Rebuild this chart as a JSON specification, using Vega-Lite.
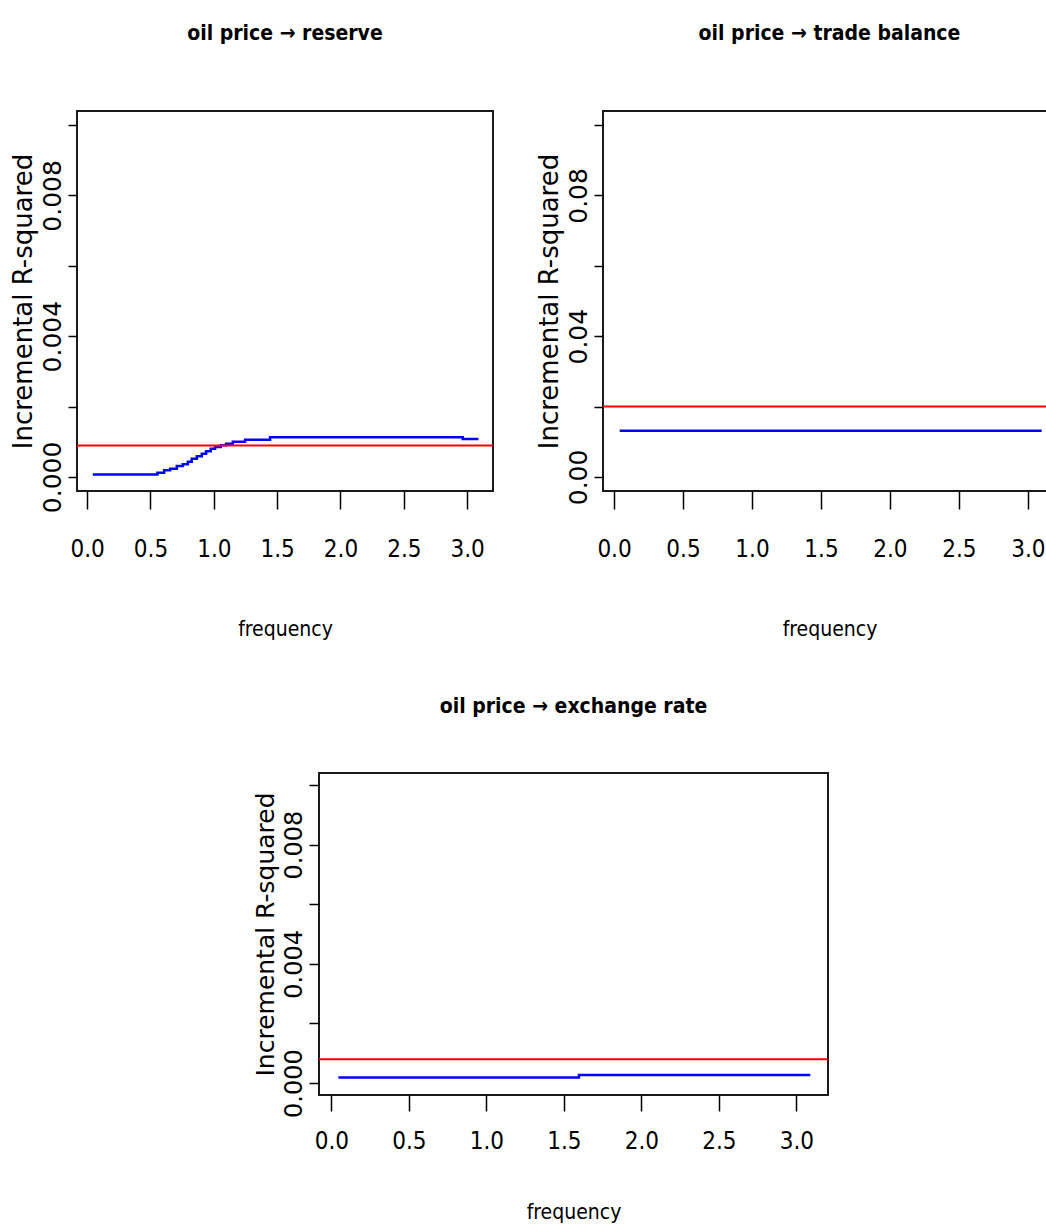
{
  "$schema": "https://vega.github.io/schema/vega-lite/v6.json",
  "usermeta": {"embedOptions": {"actions": false}},
  "background": "white",
  "padding": {"left": 9, "top": 22, "right": 0, "bottom": 0},
  "datasets": {
    "curves": [
      {"panel": "reserve", "freq": 0.045, "r2": 0.00007},
      {"panel": "reserve", "freq": 0.555, "r2": 0.00012},
      {"panel": "reserve", "freq": 0.608, "r2": 0.00019},
      {"panel": "reserve", "freq": 0.655, "r2": 0.00023},
      {"panel": "reserve", "freq": 0.708, "r2": 0.00031},
      {"panel": "reserve", "freq": 0.755, "r2": 0.00036},
      {"panel": "reserve", "freq": 0.795, "r2": 0.00043},
      {"panel": "reserve", "freq": 0.826, "r2": 0.00052},
      {"panel": "reserve", "freq": 0.866, "r2": 0.00059},
      {"panel": "reserve", "freq": 0.905, "r2": 0.00066},
      {"panel": "reserve", "freq": 0.939, "r2": 0.00073},
      {"panel": "reserve", "freq": 0.976, "r2": 0.0008},
      {"panel": "reserve", "freq": 1.01, "r2": 0.00085},
      {"panel": "reserve", "freq": 1.055, "r2": 0.0009},
      {"panel": "reserve", "freq": 1.097, "r2": 0.00094},
      {"panel": "reserve", "freq": 1.15, "r2": 0.001},
      {"panel": "reserve", "freq": 1.247, "r2": 0.00106},
      {"panel": "reserve", "freq": 1.444, "r2": 0.00113},
      {"panel": "reserve", "freq": 2.965, "r2": 0.00108},
      {"panel": "reserve", "freq": 3.089, "r2": 0.00108},
      {"panel": "trade", "freq": 0.041, "r2": 0.0131},
      {"panel": "trade", "freq": 3.1, "r2": 0.0131},
      {"panel": "exchange", "freq": 0.045, "r2": 0.00019},
      {"panel": "exchange", "freq": 1.597, "r2": 0.00027},
      {"panel": "exchange", "freq": 3.09, "r2": 0.00027}
    ],
    "thresholds": [
      {"panel": "reserve", "r2": 0.00089},
      {"panel": "trade", "r2": 0.02},
      {"panel": "exchange", "r2": 0.0008}
    ]
  },
  "config": {
    "view": {"stroke": "#1a1a1a", "strokeWidth": 2},
    "axis": {
      "domain": false,
      "grid": false,
      "tickColor": "black",
      "tickWidth": 1.5,
      "labelColor": "black",
      "titleColor": "black",
      "titleFontWeight": "normal",
      "labelOverlap": false,
      "labelFlush": false
    },
    "axisX": {
      "labelFont": "DejaVu Sans Condensed",
      "labelFontSize": 24,
      "titleFont": "DejaVu Sans Condensed",
      "titleFontSize": 21
    },
    "axisY": {
      "labelFont": "DejaVu Sans",
      "titleFont": "DejaVu Sans"
    },
    "title": {
      "font": "DejaVu Sans Condensed",
      "fontSize": 21,
      "fontWeight": "bold",
      "color": "black",
      "anchor": "middle",
      "frame": "group",
      "baseline": "alphabetic"
    }
  },
  "spacing": 55,
  "vconcat": [
    {
      "spacing": 40,
      "hconcat": [
        {
          "width": 416,
          "height": 380,
          "title": {"text": "oil price → reserve", "offset": 67},
          "layer": [
            {
              "data": {"name": "curves"},
              "transform": [{"filter": "datum.panel === 'reserve'"}],
              "mark": {"type": "line", "interpolate": "step-after", "color": "#0000ff", "strokeWidth": 2.5},
              "encoding": {
                "x": {"field": "freq", "type": "quantitative", "scale": {"domain": [-0.08, 3.204], "nice": false, "zero": false},
                  "axis": {"title": "frequency", "values": [0, 0.5, 1, 1.5, 2, 2.5, 3], "format": ".1f", "tickSize": 18, "labelPadding": 28, "titlePadding": 57}},
                "y": {"field": "r2", "type": "quantitative", "scale": {"domain": [-0.0004, 0.0104], "nice": false, "zero": false},
                  "axis": {"title": "Incremental R-squared", "values": [0, 0.002, 0.004, 0.006, 0.008, 0.01], "format": ".3f",
                    "labelExpr": "(datum.label == '0.000' || datum.label == '0.004' || datum.label == '0.008') ? datum.label : ''",
                    "labelAngle": 270, "labelAlign": "center", "labelBaseline": "alphabetic", "labelPadding": 8, "tickSize": 9,
                    "labelFontSize": 25, "titleFontSize": 26, "titlePadding": 4}}
              }
            },
            {
              "data": {"name": "thresholds"},
              "transform": [{"filter": "datum.panel === 'reserve'"}],
              "mark": {"type": "rule", "color": "#ff0000", "strokeWidth": 2},
              "encoding": {"y": {"field": "r2", "type": "quantitative", "title": "Incremental R-squared"}}
            }
          ]
        },
        {
          "width": 453,
          "height": 380,
          "title": {"text": "oil price → trade balance", "offset": 67},
          "layer": [
            {
              "data": {"name": "curves"},
              "transform": [{"filter": "datum.panel === 'trade'"}],
              "mark": {"type": "line", "interpolate": "step-after", "color": "#0000ff", "strokeWidth": 2.5},
              "encoding": {
                "x": {"field": "freq", "type": "quantitative", "scale": {"domain": [-0.08, 3.204], "nice": false, "zero": false},
                  "axis": {"title": "frequency", "values": [0, 0.5, 1, 1.5, 2, 2.5, 3], "format": ".1f", "tickSize": 18, "labelPadding": 28, "titlePadding": 57}},
                "y": {"field": "r2", "type": "quantitative", "scale": {"domain": [-0.004, 0.104], "nice": false, "zero": false},
                  "axis": {"title": "Incremental R-squared", "values": [0, 0.02, 0.04, 0.06, 0.08, 0.1], "format": ".2f",
                    "labelExpr": "(datum.label == '0.00' || datum.label == '0.04' || datum.label == '0.08') ? datum.label : ''",
                    "labelAngle": 270, "labelAlign": "center", "labelBaseline": "alphabetic", "labelPadding": 8, "tickSize": 9,
                    "labelFontSize": 25, "titleFontSize": 26, "titlePadding": 4}}
              }
            },
            {
              "data": {"name": "thresholds"},
              "transform": [{"filter": "datum.panel === 'trade'"}],
              "mark": {"type": "rule", "color": "#ff0000", "strokeWidth": 2},
              "encoding": {"y": {"field": "r2", "type": "quantitative", "title": "Incremental R-squared"}}
            }
          ]
        }
      ]
    },
    {
      "spacing": 0,
      "hconcat": [
        {
          "width": 175,
          "height": 10,
          "data": {"values": [{"k": 0}]},
          "mark": {"type": "point", "opacity": 0},
          "view": {"stroke": null}
        },
        {
          "width": 509,
          "height": 322,
          "title": {"text": "oil price → exchange rate", "offset": 56},
          "layer": [
            {
              "data": {"name": "curves"},
              "transform": [{"filter": "datum.panel === 'exchange'"}],
              "mark": {"type": "line", "interpolate": "step-after", "color": "#0000ff", "strokeWidth": 2.5},
              "encoding": {
                "x": {"field": "freq", "type": "quantitative", "scale": {"domain": [-0.08, 3.204], "nice": false, "zero": false},
                  "axis": {"title": "frequency", "values": [0, 0.5, 1, 1.5, 2, 2.5, 3], "format": ".1f", "tickSize": 16, "labelPadding": 18, "titlePadding": 48}},
                "y": {"field": "r2", "type": "quantitative", "scale": {"domain": [-0.0004, 0.0104], "nice": false, "zero": false},
                  "axis": {"title": "Incremental R-squared", "values": [0, 0.002, 0.004, 0.006, 0.008, 0.01], "format": ".3f",
                    "labelExpr": "(datum.label == '0.000' || datum.label == '0.004' || datum.label == '0.008') ? datum.label : ''",
                    "labelAngle": 270, "labelAlign": "center", "labelBaseline": "alphabetic", "labelPadding": 8, "tickSize": 10,
                    "labelFontSize": 24, "titleFontSize": 25, "titlePadding": 4}}
              }
            },
            {
              "data": {"name": "thresholds"},
              "transform": [{"filter": "datum.panel === 'exchange'"}],
              "mark": {"type": "rule", "color": "#ff0000", "strokeWidth": 2},
              "encoding": {"y": {"field": "r2", "type": "quantitative", "title": "Incremental R-squared"}}
            }
          ]
        }
      ]
    }
  ]
}
